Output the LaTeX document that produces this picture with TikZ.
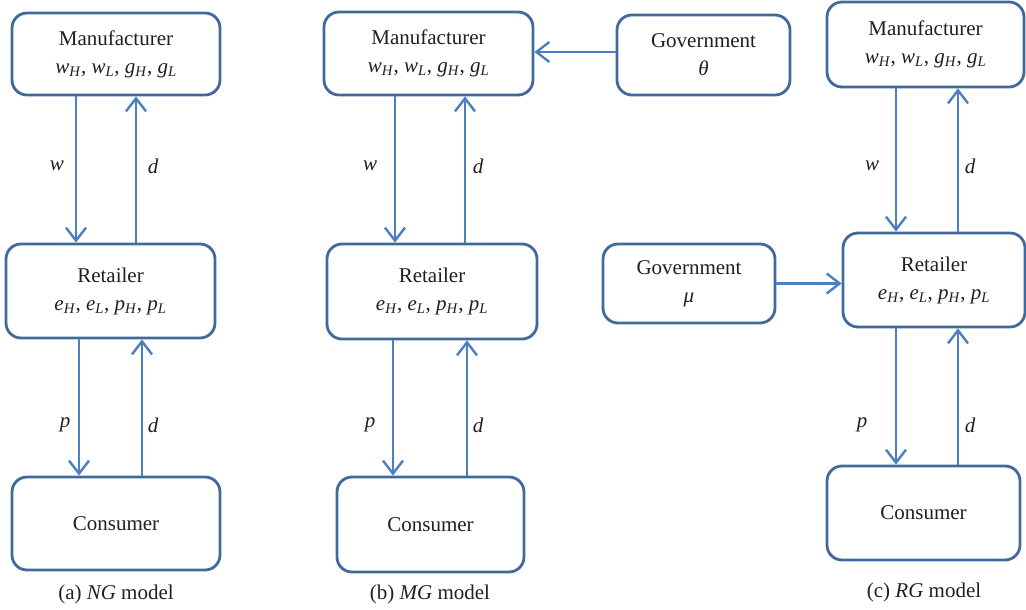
\documentclass[tikz,border=0pt]{standalone}
\usepackage{fontspec}
\setmainfont{Liberation Serif}
\usetikzlibrary{arrows.meta}
\definecolor{boxblue}{HTML}{41699C}
\definecolor{arrblue}{HTML}{4A80C2}
\definecolor{txt}{HTML}{231F20}
\newcommand\vs[2]{\textit{#1}\textsubscript{\textit{#2}}}
\begin{document}
\begin{tikzpicture}[x=1pt,y=-1pt,
  font=\fontsize{21}{28}\selectfont, text=txt,
  box/.style={draw=boxblue, line width=2.8pt, rounded corners=15pt, align=center, inner sep=0pt, fill=white},
  arr/.style={draw=arrblue, line width=2.4pt, -{Straight Barb[length=13pt,width=20pt,line width=2.4pt]}},
  lab/.style={font=\fontsize{21}{24}\selectfont\itshape}]
\useasboundingbox (0,0) rectangle (1026,610);
% (a)
\node[box, minimum width=208, minimum height=82] (aM) at (116,54) {Manufacturer\\\vs{w}{H}, \vs{w}{L}, \vs{g}{H}, \vs{g}{L}};
\node[box, minimum width=209, minimum height=94] (aR) at (110.5,291) {Retailer\\\vs{e}{H}, \vs{e}{L}, \vs{p}{H}, \vs{p}{L}};
\node[box, minimum width=208, minimum height=93] (aC) at (116,523.5) {Consumer};
\node (acap) at (116,594) {(a) \textit{NG} model};
\draw[arr] (aM.south -| 76,0) -- (aR.north -| 76,0);
\draw[arr] (aR.north -| 136,0) -- (aM.south -| 136,0);
\draw[arr] (aR.south -| 79,0) -- (aC.north -| 79,0);
\draw[arr] (aC.north -| 142,0) -- (aR.south -| 142,0);
\node[lab] (aw) at (57,166) {w};
\node[lab] (ad1) at (153,166) {d};
\node[lab] (ap) at (65,425) {p};
\node[lab] (ad2) at (153,425) {d};
% (b)
\node[box, minimum width=209, minimum height=83] (bM) at (428.5,53.5) {Manufacturer\\\vs{w}{H}, \vs{w}{L}, \vs{g}{H}, \vs{g}{L}};
\node[box, minimum width=173, minimum height=80] (bG) at (703.5,55) {Government\\\textit{θ}};
\node[box, minimum width=210, minimum height=95] (bR) at (432,291.5) {Retailer\\\vs{e}{H}, \vs{e}{L}, \vs{p}{H}, \vs{p}{L}};
\node[box, minimum width=187, minimum height=95] (bC) at (430.5,524.5) {Consumer};
\node (bcap) at (430,594) {(b) \textit{MG} model};
\draw[arr] (bG.west |- 0,52) -- (bM.east |- 0,52);
\draw[arr] (bM.south -| 395,0) -- (bR.north -| 395,0);
\draw[arr] (bR.north -| 465,0) -- (bM.south -| 465,0);
\draw[arr] (bR.south -| 393,0) -- (bC.north -| 393,0);
\draw[arr] (bC.north -| 467,0) -- (bR.south -| 467,0);
\node[lab] (bw) at (370,166) {w};
\node[lab] (bd1) at (478,166) {d};
\node[lab] (bp) at (370,425) {p};
\node[lab] (bd2) at (478,425) {d};
% (c)
\node[box, minimum width=197, minimum height=85] (cM) at (925.5,44.5) {Manufacturer\\\vs{w}{H}, \vs{w}{L}, \vs{g}{H}, \vs{g}{L}};
\node[box, minimum width=182, minimum height=94] (cR) at (934,280) {Retailer\\\vs{e}{H}, \vs{e}{L}, \vs{p}{H}, \vs{p}{L}};
\node[box, minimum width=172, minimum height=79] (cG) at (689,283.5) {Government\\\textit{μ}};
\node[box, minimum width=193, minimum height=94] (cC) at (923.5,513) {Consumer};
\node (ccap) at (924,592) {(c) \textit{RG} model};
\draw[arr] (cG.east) -- (cG.east -| cR.west);
\draw[arr] (cM.south -| 896,0) -- (cR.north -| 896,0);
\draw[arr] (cR.north -| 958,0) -- (cM.south -| 958,0);
\draw[arr] (cR.south -| 896,0) -- (cC.north -| 896,0);
\draw[arr] (cC.north -| 958,0) -- (cR.south -| 958,0);
\node[lab] (cw) at (872,166) {w};
\node[lab] (cd1) at (970,166) {d};
\node[lab] (cp) at (862,425) {p};
\node[lab] (cd2) at (970,425) {d};
\end{tikzpicture}
\end{document}
